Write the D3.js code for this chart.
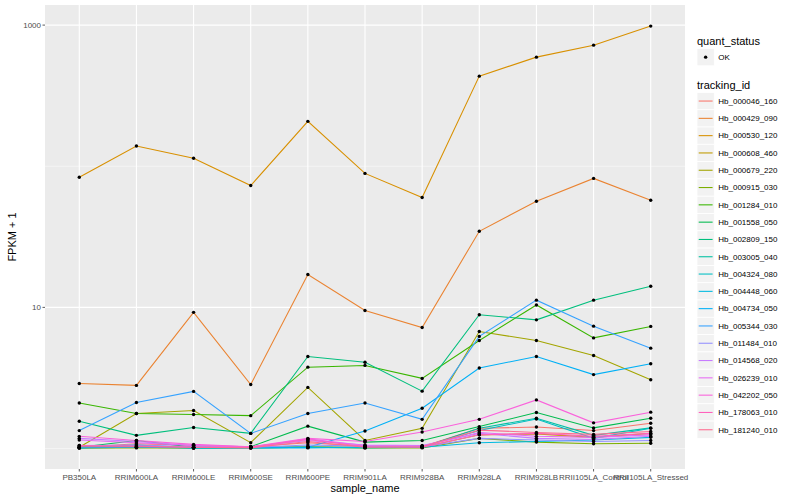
<!DOCTYPE html>
<meta charset="utf-8">
<html>
<head>
  <style>
    body { margin: 0; background: white; }
    text { font-family: "Liberation Sans", Arial, sans-serif; }
    .tick-label { font-size: 8px; fill: #4d4d4d; }
    .axis-title { font-size: 11px; fill: black; }
    .legend-title { font-size: 11px; fill: black; }
    .legend-label { font-size: 8px; fill: black; }
  </style>
</head>
<body>
<svg width="800" height="500"></svg>

<script src="https://d3js.org/d3.v7.min.js"></script>
<script>

// samples on the x axis
const samples = ["PB350LA", "RRIM600LA", "RRIM600LE", "RRIM600SE", "RRIM600PE", "RRIM901LA",
  "RRIM928BA", "RRIM928LA", "RRIM928LB", "RRII105LA_Control", "RRII105LA_Stressed"];

const trackingIds = ["Hb_000046_160", "Hb_000429_090", "Hb_000530_120", "Hb_000608_460",
  "Hb_000679_220", "Hb_000915_030", "Hb_001284_010", "Hb_001558_050", "Hb_002809_150",
  "Hb_003005_040", "Hb_004324_080", "Hb_004448_060", "Hb_004734_050", "Hb_005344_030",
  "Hb_011484_010", "Hb_014568_020", "Hb_026239_010", "Hb_042202_050", "Hb_178063_010",
  "Hb_181240_010"];

// ggplot hue palette, 20 levels
const colors = ["#F8766D", "#EA8331", "#D89000", "#C09B00", "#A3A500", "#7CAE00", "#39B600",
  "#00BB4E", "#00BF7D", "#00C1A3", "#00BFC4", "#00BAE0", "#00B0F6", "#35A2FF", "#9590FF",
  "#C77CFF", "#E76BF3", "#FA62DB", "#FF62BC", "#FF6C91"];

// FPKM per tracking id (rows, same order as trackingIds), one value per sample
const fpkm = [
  [0.02, 0.08, 0.05, 0.03, 0.10, 0.04, 0.03, 0.39, 0.42, 0.34, 0.51],
  [1.89, 1.80, 8.22, 1.84, 16.1, 8.5, 6.2, 33.6, 55.5, 81, 56.4],
  [82.6, 138, 113, 72, 207, 88, 59, 434, 592, 720, 983],
  [0.01, 0.02, 0.01, 0.02, 0.03, 0.02, 0.02, 0.25, 0.27, 0.20, 0.28],
  [0.02, 0.77, 0.86, 0.10, 1.71, 0.14, 0.39, 5.74, 4.83, 3.56, 2.07],
  [0.01, 0.01, 0.01, 0.01, 0.02, 0.01, 0.01, 0.18, 0.11, 0.08, 0.09],
  [1.10, 0.77, 0.74, 0.71, 2.77, 2.88, 2.14, 4.83, 9.4, 5.08, 6.33],
  [0.02, 0.14, 0.02, 0.03, 0.44, 0.11, 0.14, 0.43, 0.80, 0.40, 0.64],
  [0.56, 0.24, 0.41, 0.28, 3.49, 3.09, 1.55, 7.86, 7.16, 10.25, 13.1],
  [0.01, 0.06, 0.01, 0.01, 0.02, 0.01, 0.02, 0.39, 0.64, 0.24, 0.40],
  [0.02, 0.04, 0.01, 0.02, 0.02, 0.02, 0.03, 0.34, 0.62, 0.18, 0.39],
  [0.01, 0.02, 0.01, 0.01, 0.01, 0.02, 0.02, 0.10, 0.12, 0.15, 0.20],
  [0.02, 0.03, 0.02, 0.02, 0.02, 0.33, 0.93, 2.72, 3.49, 2.34, 2.99],
  [0.34, 1.12, 1.54, 0.28, 0.77, 1.10, 0.61, 5.23, 10.25, 6.36, 4.14],
  [0.05, 0.06, 0.03, 0.02, 0.06, 0.04, 0.03, 0.18, 0.15, 0.12, 0.14],
  [0.18, 0.12, 0.05, 0.03, 0.14, 0.06, 0.05, 0.28, 0.18, 0.16, 0.22],
  [0.15, 0.10, 0.05, 0.02, 0.17, 0.05, 0.04, 0.30, 0.22, 0.20, 0.25],
  [0.22, 0.14, 0.07, 0.03, 0.18, 0.12, 0.31, 0.61, 1.21, 0.52, 0.81],
  [0.05, 0.04, 0.02, 0.02, 0.16, 0.03, 0.02, 0.25, 0.28, 0.22, 0.28],
  [0.03, 0.03, 0.02, 0.01, 0.12, 0.02, 0.03, 0.35, 0.30, 0.26, 0.32]
];

const yBreaks = [10, 1000];
const yMinor = [1, 100];

const svg = d3.select("svg");

// panel box
const panel = { left: 45, right: 685, top: 5, bottom: 469 };

const x = d3.scalePoint()
  .domain(samples)
  .range([panel.left, panel.right])
  .padding(0.6);

// log scale with ggplot-like 5% expansion (in log space)
const allVals = fpkm.flat().map(v => v + 1);
const lo = Math.log10(d3.min(allVals)), hi = Math.log10(d3.max(allVals));
const pad = (hi - lo) * 0.05;
const y = d3.scaleLog()
  .domain([Math.pow(10, lo - pad), Math.pow(10, hi + pad)])
  .range([panel.bottom, panel.top]);

// background
svg.append("rect")
  .attr("x", panel.left).attr("y", panel.top)
  .attr("width", panel.right - panel.left).attr("height", panel.bottom - panel.top)
  .attr("fill", "#EBEBEB");

const grid = svg.append("g");
grid.selectAll(".minor").data(yMinor).join("line")
  .attr("x1", panel.left).attr("x2", panel.right)
  .attr("y1", d => y(d)).attr("y2", d => y(d))
  .attr("stroke", "#fafafa").attr("stroke-width", 0.6);
grid.selectAll(".major").data(yBreaks).join("line")
  .attr("x1", panel.left).attr("x2", panel.right)
  .attr("y1", d => y(d)).attr("y2", d => y(d))
  .attr("stroke", "white").attr("stroke-width", 1.1);
grid.selectAll(".vmajor").data(samples).join("line")
  .attr("x1", d => x(d)).attr("x2", d => x(d))
  .attr("y1", panel.top).attr("y2", panel.bottom)
  .attr("stroke", "white").attr("stroke-width", 1.1);

// axes
const yAxis = svg.append("g");
yAxis.selectAll("line").data(yBreaks).join("line")
  .attr("x1", panel.left - 2.5).attr("x2", panel.left)
  .attr("y1", d => y(d)).attr("y2", d => y(d))
  .attr("stroke", "#333").attr("stroke-width", 0.8);
yAxis.selectAll("text").data(yBreaks).join("text")
  .attr("class", "tick-label")
  .attr("x", panel.left - 4)
  .attr("y", d => y(d))
  .attr("dy", "0.35em")
  .attr("text-anchor", "end")
  .text(d => d);

const xAxis = svg.append("g");
xAxis.selectAll("line").data(samples).join("line")
  .attr("x1", d => x(d)).attr("x2", d => x(d))
  .attr("y1", panel.bottom).attr("y2", panel.bottom + 2.5)
  .attr("stroke", "#333").attr("stroke-width", 0.8);
xAxis.selectAll("text").data(samples).join("text")
  .attr("class", "tick-label")
  .attr("x", d => x(d))
  .attr("y", panel.bottom + 11)
  .attr("text-anchor", "middle")
  .text(d => d);

svg.append("text").attr("class", "axis-title")
  .attr("x", (panel.left + panel.right) / 2).attr("y", 492)
  .attr("text-anchor", "middle").text("sample_name");
svg.append("text").attr("class", "axis-title")
  .attr("transform", `translate(16,${(panel.top + panel.bottom) / 2}) rotate(-90)`)
  .attr("text-anchor", "middle").text("FPKM + 1");

// series
const series = trackingIds.map((id, i) => ({
  id, color: colors[i],
  values: samples.map((s, j) => ({ sample: s, v: fpkm[i][j] + 1 }))
}));

const line = d3.line().x(d => x(d.sample)).y(d => y(d.v));

svg.append("g").selectAll("path").data(series).join("path")
  .attr("d", d => line(d.values))
  .attr("fill", "none")
  .attr("stroke", d => d.color)
  .attr("stroke-width", 1.07);

svg.append("g").selectAll("circle")
  .data(series.flatMap(d => d.values))
  .join("circle")
  .attr("cx", d => x(d.sample))
  .attr("cy", d => y(d.v))
  .attr("r", 1.7)
  .attr("fill", "black");

// legends
const lg = svg.append("g").attr("transform", "translate(697,0)");
const keySize = 17.3;

lg.append("text").attr("class", "legend-title").attr("x", 0).attr("y", 45).text("quant_status");
lg.append("rect").attr("x", 0).attr("y", 48.5).attr("width", keySize).attr("height", keySize)
  .attr("fill", "#F2F2F2").attr("stroke", "white").attr("stroke-width", 0.8);
lg.append("circle").attr("cx", keySize / 2).attr("cy", 48.5 + keySize / 2).attr("r", 1.7).attr("fill", "black");
lg.append("text").attr("class", "legend-label").attr("x", keySize + 4).attr("y", 48.5 + keySize / 2)
  .attr("dy", "0.35em").text("OK");

lg.append("text").attr("class", "legend-title").attr("x", 0).attr("y", 89).text("tracking_id");
const keys = lg.selectAll(".key").data(series).join("g")
  .attr("class", "key")
  .attr("transform", (d, i) => `translate(0,${92.4 + i * keySize})`);
keys.append("rect").attr("width", keySize).attr("height", keySize)
  .attr("fill", "#F2F2F2").attr("stroke", "white").attr("stroke-width", 0.8);
keys.append("line")
  .attr("x1", 1.7).attr("x2", keySize - 1.7)
  .attr("y1", keySize / 2).attr("y2", keySize / 2)
  .attr("stroke", d => d.color).attr("stroke-width", 1.07);
keys.append("text").attr("class", "legend-label")
  .attr("x", keySize + 4).attr("y", keySize / 2).attr("dy", "0.35em")
  .text(d => d.id);

</script>
</body>
</html>
